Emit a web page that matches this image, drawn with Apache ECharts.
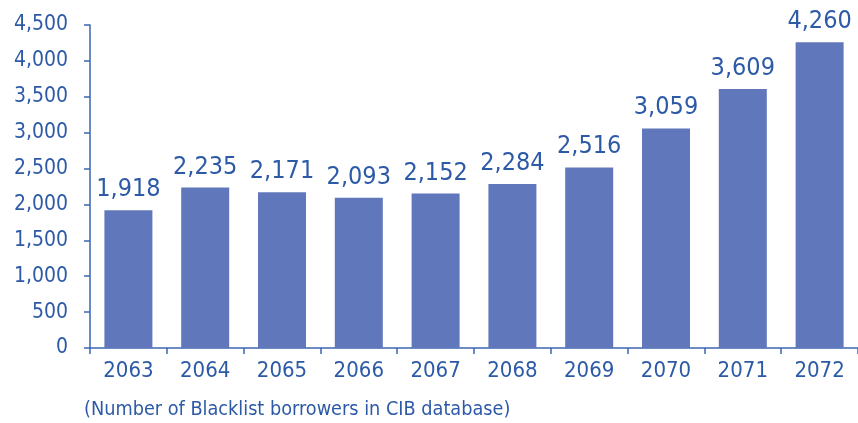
<!DOCTYPE html>
<html>
<head>
<meta charset="utf-8">
<script src="https://cdn.jsdelivr.net/npm/echarts@6/dist/echarts.min.js"></script>
<style>
  html, body { margin: 0; padding: 0; background: #fff; }
  #chart { width: 858px; height: 423px; }
</style>
</head>
<body>
<div id="chart"></div>
<script>
// Blacklisted borrowers recorded in the CIB database, by fiscal year
const years = ['2063', '2064', '2065', '2066', '2067', '2068', '2069', '2070', '2071', '2072'];
const borrowers = [1918, 2235, 2171, 2093, 2152, 2284, 2516, 3059, 3609, 4260];
const yTicks = [0, 500, 1000, 1500, 2000, 2500, 3000, 3500, 4000, 4500];
const caption = '(Number of Blacklist borrowers in CIB database)';

const FONT = "'DejaVu Sans Condensed', 'Liberation Sans Narrow', 'DejaVu Sans', sans-serif";
const TEXT = '#2d5aa7';
const AXIS = '#3a65b0';
const BAR = '#6177bb';

const chart = echarts.init(document.getElementById('chart'));
chart.setOption({
  animation: false,
  textStyle: { fontFamily: FONT },
  grid: { left: 90, right: -6, top: 25, bottom: 75 },
  graphic: [{
    type: 'text',
    left: 84,
    top: 400,
    style: { text: caption, fill: TEXT, font: '19.7px ' + FONT }
  }],
  xAxis: {
    type: 'category',
    data: years,
    axisLine: { lineStyle: { color: AXIS, width: 1.5 } },
    axisTick: { show: true, length: 6, lineStyle: { color: AXIS, width: 1.5 } },
    axisLabel: { color: TEXT, fontSize: 22, margin: 12, fontFamily: FONT }
  },
  yAxis: {
    type: 'value',
    min: yTicks[0],
    max: yTicks[yTicks.length - 1],
    interval: 500,
    splitLine: { show: false },
    axisLine: { show: true, lineStyle: { color: AXIS, width: 1.5 } },
    axisTick: { show: true, length: 6, lineStyle: { color: AXIS, width: 1.5 } },
    axisLabel: {
      color: TEXT, fontSize: 21, margin: 22, fontFamily: FONT,
      formatter: v => v.toLocaleString('en-US')
    }
  },
  series: [{
    type: 'bar',
    data: borrowers,
    barWidth: 48,
    itemStyle: { color: BAR },
    label: {
      show: true,
      position: 'top',
      distance: 8,
      color: TEXT,
      fontSize: 25,
      fontFamily: FONT,
      formatter: p => p.value.toLocaleString('en-US')
    }
  }]
});
</script>
</body>
</html>
